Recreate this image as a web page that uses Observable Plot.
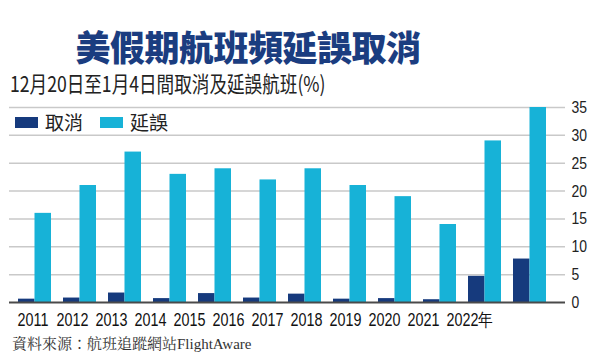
<!DOCTYPE html>
<html>
<head>
<meta charset="utf-8">
<script src="https://cdn.jsdelivr.net/npm/d3@7"></script>
<script src="https://cdn.jsdelivr.net/npm/@observablehq/plot@0.6"></script>
<style>
  html, body { margin: 0; padding: 0; background: #fff; }
  #page { position: relative; width: 600px; height: 363px; overflow: hidden; background: #fff; }
  #title { position: absolute; left: 0; top: 29px; width: 496px; text-align: center;
    font-family: "Noto Sans CJK TC", sans-serif; font-weight: 900; font-size: 35px; line-height: 34px;
    color: #1b3d80; letter-spacing: -0.5px; white-space: nowrap; }
  #subtitle { position: absolute; left: 10px; top: 70px; font-family: "Noto Sans CJK TC", sans-serif;
    font-size: 22px; line-height: 24px; color: #222; white-space: nowrap; transform-origin: 0 0; transform: scaleX(0.8); }
  #legend { position: absolute; left: 15px; top: 110px; font-family: "Noto Sans CJK TC", sans-serif;
    font-size: 19px; line-height: 24px; color: #222; white-space: nowrap; display: flex; align-items: center; }
  #legend .sw { display: inline-block; width: 23px; height: 11px; margin-right: 7px; }
  #legend .item { display: flex; align-items: center; margin-right: 17px; }
  #chart { position: absolute; left: 0; top: 100px; }
  #xlabels { position: absolute; left: 0; top: 306px; }
  #source { position: absolute; left: 12px; top: 334px; font-family: "Liberation Serif", "Noto Serif CJK TC", "Noto Sans CJK TC", serif;
    font-size: 15px; line-height: 20px; color: #333; white-space: nowrap; }
</style>
</head>
<body>
<div id="page">
  <div id="title"></div>
  <div id="subtitle"></div>
  <div id="legend"></div>
  <div id="chart"></div>
  <div id="xlabels"></div>
  <div id="source"></div>
</div>
<script>
const titleText = "美假期航班頻延誤取消";
const subtitleText = "12月20日至1月4日間取消及延誤航班(%)";
const sourceText = "資料來源：航班追蹤網站FlightAware";
const years = ["2011","2012","2013","2014","2015","2016","2017","2018","2019","2020","2021","2022"];
const cancelled = [0.6, 0.8, 1.7, 0.7, 1.6, 0.8, 1.5, 0.6, 0.7, 0.5, 4.7, 7.8];
const delayed = [16, 21, 27, 23, 24, 22, 24, 21, 19, 14, 29, 35];
const seriesNames = ["取消", "延誤"];
const seriesColors = ["#163a7d", "#17b2d7"];
const yTicks = [0, 5, 10, 15, 20, 25, 30, 35];
const lastYearSuffix = "年";

document.getElementById("title").textContent = titleText;
document.getElementById("subtitle").textContent = subtitleText;
document.getElementById("source").textContent = sourceText;

const legend = document.getElementById("legend");
seriesNames.forEach((name, i) => {
  const item = document.createElement("span");
  item.className = "item";
  const sw = document.createElement("span");
  sw.className = "sw";
  sw.style.background = seriesColors[i];
  item.appendChild(sw);
  item.appendChild(document.createTextNode(name));
  legend.appendChild(item);
});

const cancelData = years.map((y, i) => ({year: y, value: cancelled[i]}));
const delayData = years.map((y, i) => ({year: y, value: delayed[i]}));
const numFont = "'Liberation Sans', Arial, sans-serif";

const chart = Plot.plot({
  width: 600,
  height: 210,
  marginTop: 7,
  marginBottom: 8,
  marginLeft: 9,
  marginRight: 35,
  style: {fontFamily: numFont, fontSize: "17px", color: "#222", background: "transparent", overflow: "visible"},
  x: {type: "band", domain: years, paddingInner: 0.27, paddingOuter: 0.27, align: 0.33, axis: null},
  y: {domain: [0, 35]},
  marks: [
    Plot.ruleY(yTicks.filter(d => d > 0), {stroke: "#c9c9c9", strokeWidth: 1.5}),
    Plot.barY(cancelData, {x: "year", y: "value", fill: seriesColors[0], insetLeft: 0, insetRight: 16.5}),
    Plot.barY(delayData, {x: "year", y: "value", fill: seriesColors[1], insetLeft: 16.5, insetRight: 0}),
    Plot.ruleY([0], {stroke: "#4a4a4a", strokeWidth: 2}),
    Plot.axisY({anchor: "right", ticks: yTicks, tickSize: 0, tickPadding: 6, textAnchor: "start", label: null, fill: "#222"})
  ]
});
document.getElementById("chart").appendChild(chart);

const labels = Plot.plot({
  width: 600,
  height: 28,
  marginTop: 0,
  marginBottom: 0,
  marginLeft: 15,
  marginRight: 152,
  style: {fontFamily: numFont, fontSize: "17.5px", color: "#111", background: "transparent", overflow: "visible"},
  x: {type: "point", domain: years, padding: 0, axis: null},
  marks: [
    Plot.text(years, {x: d => d, frameAnchor: "middle", textAnchor: "start",
      text: (d, i) => i === years.length - 1 ? d + lastYearSuffix : d, fill: "#111"})
  ]
});
document.getElementById("xlabels").appendChild(labels);

// condense the numeric labels to mimic the narrow typeface of the original
function condense(svg, factor) {
  svg.querySelectorAll("text").forEach(t => {
    const w = t.getComputedTextLength();
    if (w > 0) {
      t.setAttribute("textLength", (w * factor).toFixed(2));
      t.setAttribute("lengthAdjust", "spacingAndGlyphs");
    }
  });
}
condense(chart, 0.82);
condense(labels, 0.82);
</script>
</body>
</html>
